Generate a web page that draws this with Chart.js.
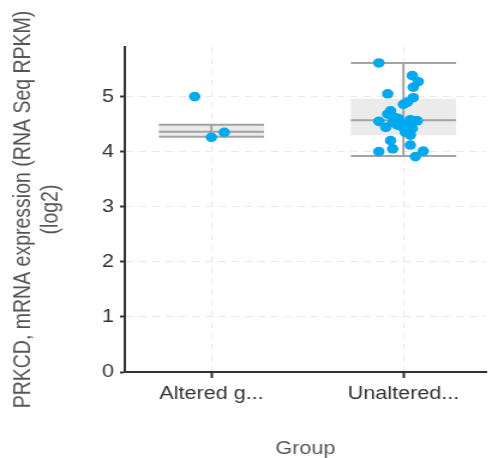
<!DOCTYPE html>
<html>
<head>
<meta charset="utf-8">
<script src="https://cdn.jsdelivr.net/npm/chart.js@4.4.0/dist/chart.umd.min.js"></script>
<style>
html, body { margin: 0; padding: 0; background: #fff; overflow: hidden; }
#wrap { width: 410px; height: 458px; transform: scaleX(1.2); transform-origin: 0 0; }
</style>
</head>
<body>
<div id="wrap"><canvas id="chart" width="410" height="458"></canvas></div>
<script>
// Groups and tick labels
const groupLabels = ['Altered g...', 'Unaltered...'];
const yTicks = [0, 1, 2, 3, 4, 5];

// Jittered points (x offset from group centre, log2 expression)
const alteredX = [-0.087, 0.0, 0.067];
const alteredY = [5.0, 4.26, 4.35];
const unalteredX = [-0.128, 0.046, 0.077, 0.051, -0.082, 0.051, 0.021, 0.0, -0.067, -0.082,
                    -0.128, -0.056, -0.092, -0.031, 0.0, 0.036, 0.072, 0.046, 0.036, -0.067,
                    -0.056, 0.036, -0.128, 0.103, 0.062, 0.010, -0.026, 0.015, -0.045];
const unalteredY = [5.61, 5.38, 5.27, 5.17, 5.05, 4.98, 4.90, 4.86, 4.74, 4.68,
                    4.55, 4.53, 4.44, 4.48, 4.43, 4.58, 4.56, 4.42, 4.30, 4.20,
                    4.05, 4.12, 4.00, 4.01, 3.91, 4.35, 4.60, 4.50, 4.62];

// Box plot summary per group
const whiskerLow = [4.27, 3.92];
const boxQ1 = [4.27, 4.30];
const boxMedian = [4.36, 4.57];
const boxQ3 = [4.49, 4.96];
const whiskerHigh = [4.49, 5.61];

const fontFamily = '"Liberation Sans", Arial, sans-serif';
const pointColor = '#00a8ef';

// Draw boxes and whiskers behind the points
const boxPlugin = {
    id: 'boxes',
    beforeDatasetsDraw(chart) {
        const { ctx, scales: { x, y } } = chart;
        const half = 0.274;
        ctx.save();
        groupLabels.forEach((label, i) => {
            const x0 = x.getPixelForValue(i - half);
            const x1 = x.getPixelForValue(i + half);
            const xc = x.getPixelForValue(i);
            const yTop = y.getPixelForValue(boxQ3[i]);
            const yBot = y.getPixelForValue(boxQ1[i]);
            ctx.fillStyle = 'rgba(215,215,215,0.5)';
            ctx.fillRect(x0, yTop, x1 - x0, yBot - yTop);

            ctx.strokeStyle = '#a3a3a3';
            ctx.lineWidth = 2;
            ctx.beginPath();
            ctx.moveTo(xc, y.getPixelForValue(whiskerLow[i]));
            ctx.lineTo(xc, y.getPixelForValue(whiskerHigh[i]));
            [whiskerLow[i], boxMedian[i], whiskerHigh[i]].forEach(v => {
                const py = y.getPixelForValue(v);
                ctx.moveTo(x0, py);
                ctx.lineTo(x1, py);
            });
            ctx.stroke();
        });
        ctx.restore();
    }
};

const alteredPoints = alteredX.map((dx, i) => ({ x: 0 + dx, y: alteredY[i] }));
const unalteredPoints = unalteredX.map((dx, i) => ({ x: 1 + dx, y: unalteredY[i] }));

const ctx = document.getElementById('chart').getContext('2d');
new Chart(ctx, {
    type: 'scatter',
    data: {
        datasets: [
            { data: alteredPoints, backgroundColor: pointColor, borderWidth: 0, pointRadius: 4.8, pointHoverRadius: 4.8 },
            { data: unalteredPoints, backgroundColor: pointColor, borderWidth: 0, pointRadius: 4.8, pointHoverRadius: 4.8 }
        ]
    },
    options: {
        responsive: false,
        animation: false,
        events: [],
        layout: { padding: { top: 47, right: 0, left: 0, bottom: 0 } },
        plugins: {
            legend: { display: false },
            tooltip: { enabled: false }
        },
        scales: {
            x: {
                type: 'linear',
                min: -0.451,
                max: 1.431,
                afterFit(scale) { scale.height = 86; },
                afterBuildTicks(scale) { scale.ticks = groupLabels.map((l, i) => ({ value: i })); },
                ticks: {
                    callback: (v) => groupLabels[v],
                    font: { family: fontFamily, size: 18 },
                    color: '#333',
                    padding: 5,
                    maxRotation: 0,
                    autoSkip: false
                },
                grid: { color: '#e8e8e8', tickColor: '#333', tickLength: 6, tickWidth: 2, tickBorderDash: [] },
                border: { color: '#333', width: 2, dash: [6, 5] },
                title: {
                    display: true,
                    text: 'Group',
                    font: { family: fontFamily, size: 18, lineHeight: 1.0 },
                    color: '#555',
                    padding: { top: 0, bottom: 0 }
                }
            },
            y: {
                min: 0,
                max: 5.9,
                afterFit(scale) { scale.width = 104; },
                afterBuildTicks(scale) { scale.ticks = yTicks.map(v => ({ value: v })); },
                ticks: {
                    font: { family: fontFamily, size: 18 },
                    color: '#333',
                    padding: 5
                },
                grid: { color: '#e8e8e8', tickColor: '#333', tickLength: 4, tickWidth: 2, tickBorderDash: [] },
                border: { color: '#333', width: 2, dash: [6, 5] },
                title: {
                    display: true,
                    text: ['PRKCD, mRNA expression (RNA Seq RPKM)', '(log2)'],
                    font: { family: fontFamily, size: 19.5, lineHeight: 1.2 },
                    color: '#555',
                    padding: { top: 8, bottom: 0 }
                }
            }
        }
    },
    plugins: [boxPlugin]
});
</script>
</body>
</html>
